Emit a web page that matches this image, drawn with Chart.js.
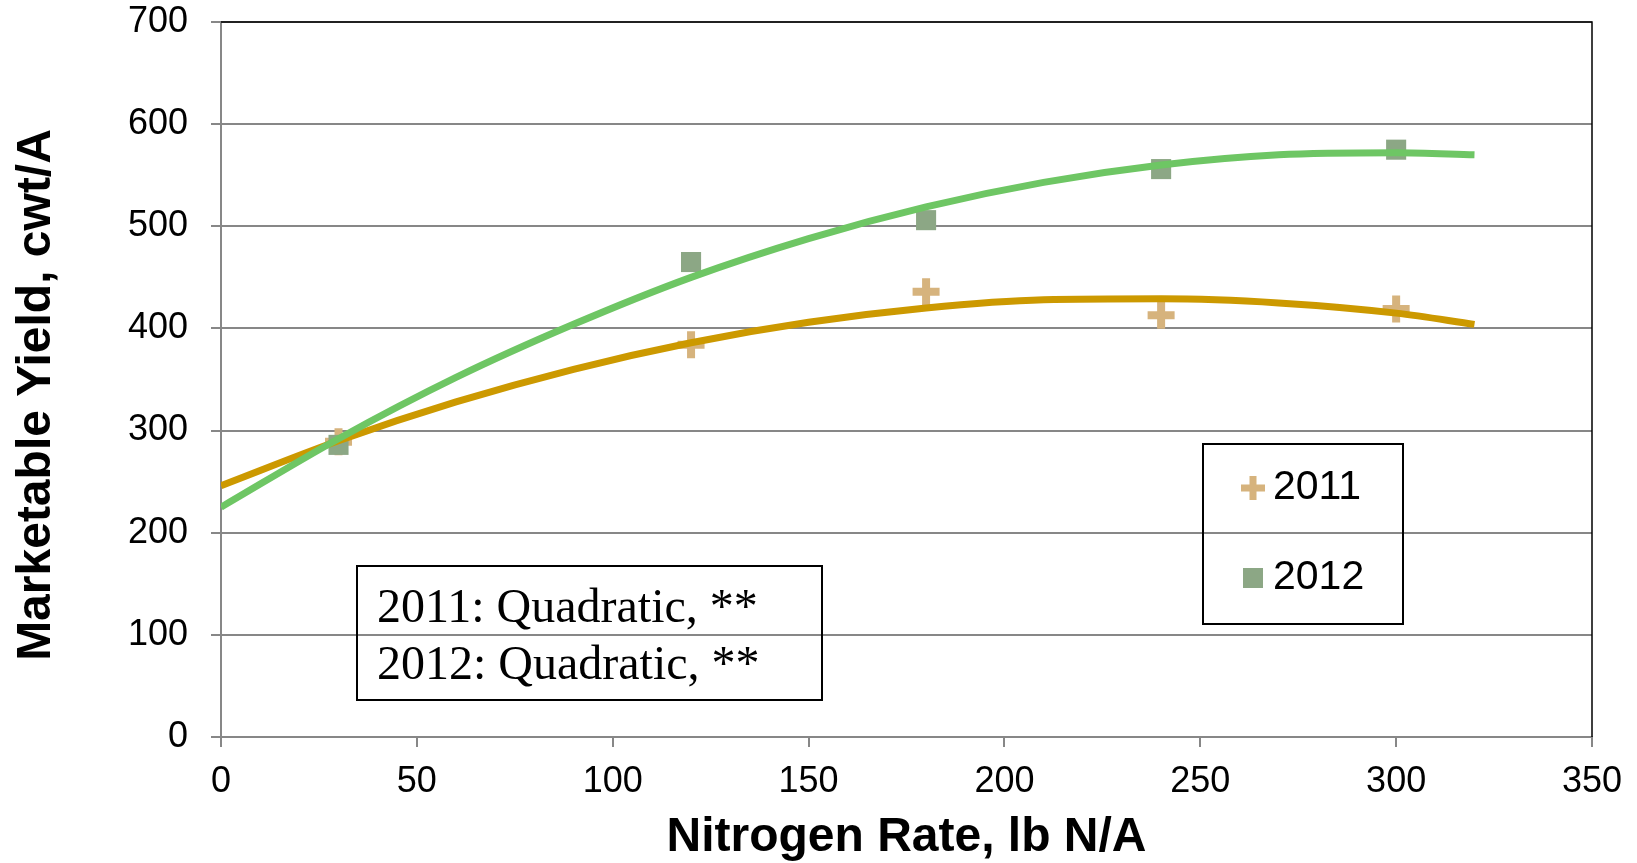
<!DOCTYPE html>
<html>
<head>
<meta charset="utf-8">
<title>Marketable Yield vs Nitrogen Rate</title>
<script src="https://cdn.jsdelivr.net/npm/chart.js@4.4.0/dist/chart.umd.min.js"></script>
<style>
  html, body { margin: 0; padding: 0; background: #fff; }
</style>
</head>
<body>
<canvas id="yieldChart" width="1637" height="863"></canvas>
<script>
// observed yields (cwt/A) at each nitrogen rate (lb N/A)
const nRates = [30, 120, 180, 240, 300];
const yield2011 = [289, 384, 436, 413, 419];
const yield2012 = [286, 465, 506, 556, 575];

// quadratic trend curves, sampled along the rate axis
const fitRates = [0, 30, 60, 90, 120, 150, 180, 210, 240, 270, 300, 320];
const fit2011 = [246, 290, 328, 360, 386, 406, 420, 428, 429, 425, 415, 404];
const fit2012 = [225, 292, 352, 404, 450, 488, 519, 543, 560, 570, 572, 570];

const seriesNames = ["2011", "2012"];
const fitNotes = ["2011: Quadratic, **", "2012: Quadratic, **"];
const xTickValues = [0, 50, 100, 150, 200, 250, 300, 350];
const yTickValues = [0, 100, 200, 300, 400, 500, 600, 700];
const yTitle = "Marketable Yield, cwt/A";

const colors = {
  cross: "#D6B37D",
  square: "#8CA785",
  line2011: "#CC9900",
  line2012: "#6EC664",
  grid: "#878787"
};

const sans = "'Liberation Sans', Arial, sans-serif";
const serif = "'Liberation Serif', 'Times New Roman', serif";

function toPoints(xs, ys) {
  return xs.map((x, i) => ({ x: x, y: ys[i] }));
}

// black frame on top/right, the y title, the legend and the note box
const boxesPlugin = {
  id: "boxes",
  afterDraw(chart) {
    const ctx = chart.ctx;
    const a = chart.chartArea;
    ctx.save();

    ctx.strokeStyle = "#000";
    ctx.lineWidth = 1.5;
    ctx.beginPath();
    ctx.moveTo(a.left, a.top);
    ctx.lineTo(a.right, a.top);
    ctx.lineTo(a.right, a.bottom);
    ctx.stroke();

    // y axis title (sits a little below the axis middle)
    ctx.save();
    ctx.translate(37, 395);
    ctx.rotate(-Math.PI / 2);
    ctx.font = "bold 48px " + sans;
    ctx.fillStyle = "#000";
    ctx.textAlign = "center";
    ctx.textBaseline = "middle";
    ctx.fillText(yTitle, 0, 0);
    ctx.restore();

    // legend
    ctx.lineWidth = 2;
    ctx.strokeRect(1203, 444, 200, 180);
    ctx.font = "41px " + sans;
    ctx.fillStyle = "#000";
    ctx.textBaseline = "middle";
    ctx.textAlign = "left";
    ctx.fillText(seriesNames[0], 1273, 488);
    ctx.fillText(seriesNames[1], 1273, 578);

    ctx.strokeStyle = colors.cross;
    ctx.lineWidth = 7;
    ctx.beginPath();
    ctx.moveTo(1241, 488); ctx.lineTo(1265, 488);
    ctx.moveTo(1253, 476); ctx.lineTo(1253, 500);
    ctx.stroke();
    ctx.fillStyle = colors.square;
    ctx.fillRect(1243, 568, 20, 20);

    // note box
    ctx.strokeStyle = "#000";
    ctx.lineWidth = 2;
    ctx.strokeRect(357, 566, 465, 134);
    ctx.fillStyle = "#000";
    ctx.font = "48px " + serif;
    ctx.textBaseline = "alphabetic";
    ctx.fillText(fitNotes[0], 377, 622);
    ctx.fillText(fitNotes[1], 377, 679);

    ctx.restore();
  }
};

new Chart(document.getElementById("yieldChart"), {
  type: "scatter",
  data: {
    datasets: [
      {
        label: seriesNames[0],
        data: toPoints(nRates, yield2011),
        pointStyle: "cross",
        pointRadius: 13.5,
        pointBorderWidth: 8,
        borderColor: colors.cross,
        backgroundColor: colors.cross,
        order: 4
      },
      {
        label: seriesNames[1],
        data: toPoints(nRates, yield2012),
        pointStyle: "rect",
        pointRadius: 14.2,
        pointBorderWidth: 0,
        borderColor: colors.square,
        backgroundColor: colors.square,
        order: 3
      },
      {
        label: "Fit " + seriesNames[0],
        data: toPoints(fitRates, fit2011),
        showLine: true,
        pointRadius: 0,
        borderWidth: 7,
        borderColor: colors.line2011,
        cubicInterpolationMode: "monotone",
        order: 2
      },
      {
        label: "Fit " + seriesNames[1],
        data: toPoints(fitRates, fit2012),
        showLine: true,
        pointRadius: 0,
        borderWidth: 7,
        borderColor: colors.line2012,
        cubicInterpolationMode: "monotone",
        order: 1
      }
    ]
  },
  options: {
    responsive: false,
    animation: false,
    devicePixelRatio: 1,
    layout: { padding: { top: 22, right: 45, left: 0, bottom: 0 } },
    plugins: {
      legend: { display: false },
      tooltip: { enabled: false }
    },
    scales: {
      x: {
        type: "linear",
        min: 0,
        max: 350,
        afterBuildTicks: (scale) => {
          scale.ticks = xTickValues.map((v) => ({ value: v }));
        },
        afterFit: (scale) => { scale.height = 126; },
        ticks: {
          color: "#000",
          font: { family: sans, size: 36 },
          padding: 13,
          maxRotation: 0
        },
        grid: {
          drawOnChartArea: false,
          drawTicks: true,
          tickLength: 10,
          color: colors.grid,
          lineWidth: 2
        },
        border: { color: colors.grid, width: 2 },
        title: {
          display: true,
          text: "Nitrogen Rate, lb N/A",
          color: "#000",
          font: { family: sans, size: 48, weight: "bold" },
          padding: { top: 0, bottom: -4 }
        }
      },
      y: {
        type: "linear",
        min: 0,
        max: 700,
        afterBuildTicks: (scale) => {
          scale.ticks = yTickValues.map((v) => ({ value: v }));
        },
        afterFit: (scale) => {
          scale.width = 221;
          scale.paddingTop = 0;
          scale.paddingBottom = 0;
        },
        ticks: {
          color: "#000",
          font: { family: sans, size: 36 },
          padding: 23
        },
        grid: {
          drawTicks: true,
          tickLength: 10,
          color: colors.grid,
          lineWidth: 2
        },
        border: { color: colors.grid, width: 2 },
        title: { display: false }
      }
    }
  },
  plugins: [boxesPlugin]
});
</script>
</body>
</html>
